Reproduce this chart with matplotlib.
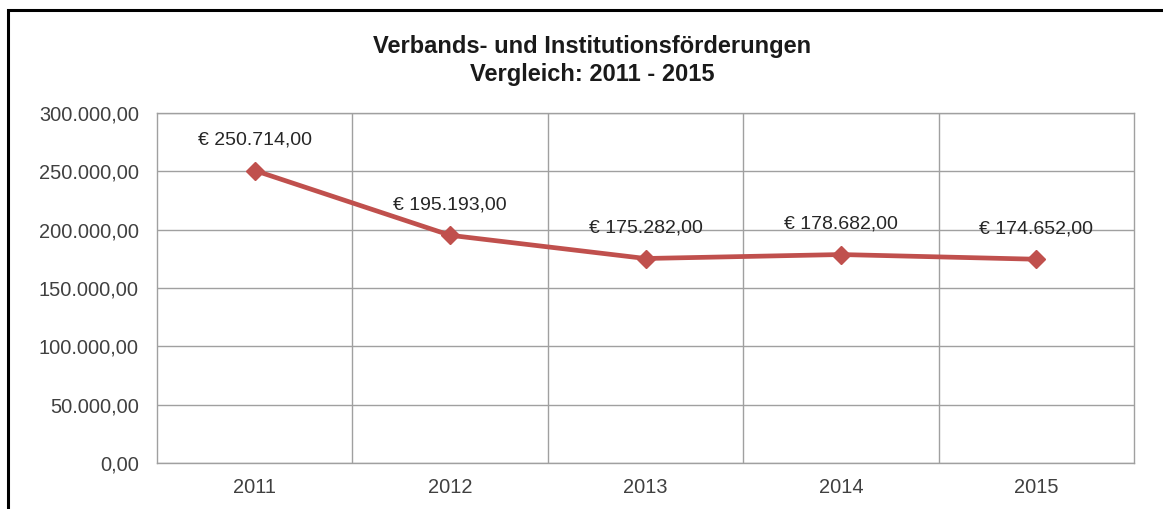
import matplotlib
matplotlib.use("Agg")
import matplotlib.pyplot as plt
from matplotlib.patches import Rectangle
from matplotlib.ticker import FixedLocator, FuncFormatter

years = ["2011", "2012", "2013", "2014", "2015"]
values = [250714.00, 195193.00, 175282.00, 178682.00, 174652.00]
title_lines = ["Verbands- und Institutionsförderungen", "Vergleich: 2011 - 2015"]

plt.rcParams['font.family'] = ['Liberation Sans', 'DejaVu Sans']

def de_fmt(v, decimals=2):
    s = f"{v:,.{decimals}f}"
    return s.replace(",", "X").replace(".", ",").replace("X", ".")

fig = plt.figure(figsize=(11.63, 5.09), dpi=100)
ax = fig.add_axes([157/1163, 46/509, (1134-157)/1163, (463-113)/509])

x = list(range(len(years)))
line_color = "#C0504D"
ax.plot(x, values, color=line_color, linewidth=3.4, marker="D", markersize=9.5,
        markerfacecolor=line_color, markeredgecolor=line_color, zorder=3)

for xi, v in zip(x, values):
    ax.annotate("€ " + de_fmt(v), (xi, v), xytext=(0, 22), textcoords="offset points",
                ha="center", va="center", fontsize=14, color="#262626")

ax.set_xlim(-0.5, len(years) - 0.5)
ax.set_ylim(0, 300000)
ax.set_xticks(x)
ax.set_xticklabels(years)
ax.xaxis.set_minor_locator(FixedLocator([i + 0.5 for i in range(len(years) - 1)]))
ax.set_yticks(range(0, 300001, 50000))
ax.yaxis.set_major_formatter(FuncFormatter(lambda v, p: de_fmt(v)))

ax.grid(axis="y", which="major", color="#a0a0a0", linewidth=1)
ax.grid(axis="x", which="minor", color="#a0a0a0", linewidth=1)
ax.grid(axis="x", which="major", visible=False)
ax.set_axisbelow(True)
for s in ax.spines.values():
    s.set_color("#a0a0a0")
    s.set_linewidth(1)
ax.tick_params(axis="both", which="both", length=0, labelsize=14.4, labelcolor="#404040")
ax.tick_params(axis="x", pad=11)
ax.tick_params(axis="y", pad=13)

fig.text(592/1163, 1 - 47/509, title_lines[0], ha="center", va="center",
         fontsize=17, fontweight="bold", color="#1a1a1a")
fig.text(592/1163, 1 - 75/509, title_lines[1], ha="center", va="center",
         fontsize=17, fontweight="bold", color="#1a1a1a")

fig.patches.append(Rectangle((8/1163, -0.1), 1.2, 1 - 10/509 + 0.1, transform=fig.transFigure,
                             fill=False, edgecolor="black", linewidth=2.2))

fig.savefig("out.png", dpi=100)
